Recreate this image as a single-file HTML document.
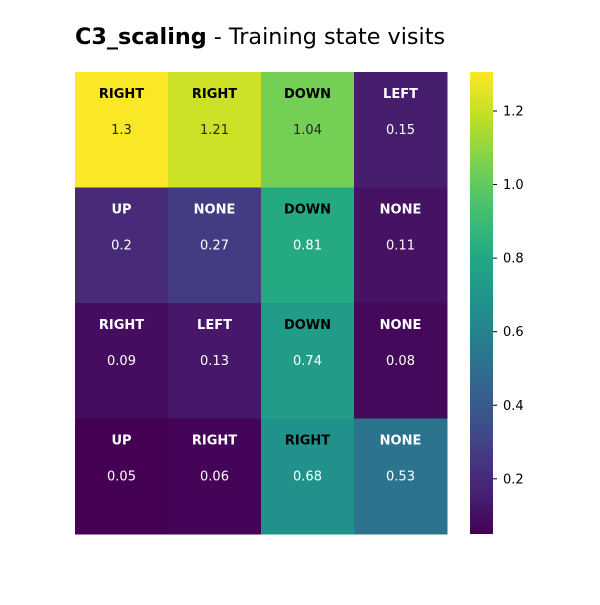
<!DOCTYPE html>
<html><head><meta charset="utf-8"><style>
body{margin:0;background:#fff;font-family:"Liberation Sans","DejaVu Sans",sans-serif}
</style></head><body>
<svg id="c" width="600" height="600" xmlns="http://www.w3.org/2000/svg">
<text x="75" y="44" font-size="22.3" fill="#000" font-family="DejaVu Sans,Liberation Sans,sans-serif"><tspan font-weight="bold">C3_scaling</tspan> - Training state visits</text>
<g id="cells"></g>
<g id="cbar"></g>
</svg>
<script>
const rowsN = 4, colsN = 4;
const values = [
 [1.3, 1.21, 1.04, 0.15],
 [0.2, 0.27, 0.81, 0.11],
 [0.09, 0.13, 0.74, 0.08],
 [0.05, 0.06, 0.68, 0.53]
];
const actions = [
 ["RIGHT","RIGHT","DOWN","LEFT"],
 ["UP","NONE","DOWN","NONE"],
 ["RIGHT","LEFT","DOWN","NONE"],
 ["UP","RIGHT","RIGHT","NONE"]
];
const cbTicks = [0.2, 0.4, 0.6, 0.8, 1.0, 1.2];
const vmin = 0.05, vmax = 1.306;

const vir = ["#440154","#482475","#414487","#355f8d","#2a788e","#21918c","#22a884","#44bf70","#7ad151","#bddf26","#fde725"];
function hex(h){return [1,3,5].map(i=>parseInt(h.substr(i,2),16));}
function viridis(t){t=Math.max(0,Math.min(1,t));const p=t*10,i=Math.min(9,Math.floor(p)),f=p-i;
 const a=hex(vir[i]),b=hex(vir[i+1]);return "rgb("+a.map((v,k)=>Math.round(v+(b[k]-v)*f)).join(",")+")";}
const X0=75,X1=447,Y0=72,Y1=534;
const cw=(X1-X0)/colsN, ch=(Y1-Y0)/rowsN;
const NS="http://www.w3.org/2000/svg";
function mk(tag,attrs,parent){const e=document.createElementNS(NS,tag);for(const k in attrs)e.setAttribute(k,attrs[k]);parent.appendChild(e);return e;}
const cells=document.getElementById('cells');
for(let r=0;r<rowsN;r++)for(let c=0;c<colsN;c++){
 const v=values[r][c];
 const rect=mk('rect',{x:X0+c*cw,y:Y0+r*ch,width:cw+0.5,height:ch+0.5,fill:viridis((v-vmin)/(vmax-vmin))},cells);
 
 
 const t1=mk('text',{x:X0+c*cw+cw/2,y:Y0+r*ch+26,'text-anchor':'middle','font-size':13,'font-weight':'bold',fill:v>0.6?'#000':'#fff','font-family':'DejaVu Sans,sans-serif'},cells);
 t1.textContent=actions[r][c];
 
 
 const t2=mk('text',{x:X0+c*cw+cw/2,y:Y0+r*ch+62,'text-anchor':'middle','font-size':13,fill:v>1.0?'#262626':'#fff','font-family':'DejaVu Sans,sans-serif'},cells);
 t2.textContent=String(v);
 
 
}
const cb=document.getElementById('cbar');
const CX=470,CW=23;
const defs=mk('defs',{},cb);
const lg=mk('linearGradient',{id:'g',x1:0,y1:1,x2:0,y2:0},defs);
for(let i=0;i<=20;i++)mk('stop',{offset:i/20,'stop-color':viridis(i/20)},lg);
const bar=mk('rect',{x:CX,y:Y0,width:CW,height:Y1-Y0,fill:'url(#g)'},cb);


const cy=v=>Y1-(v-vmin)/(vmax-vmin)*(Y1-Y0);
cbTicks.forEach(v=>{
 const y=cy(v);
 mk('line',{x1:CX+CW,x2:CX+CW+4,y1:y,y2:y,stroke:'#000','stroke-width':1},cb);
 const t=mk('text',{x:CX+CW+10,y:y+4.5,'font-size':13,fill:'#000','font-family':'DejaVu Sans,sans-serif'},cb);
 t.textContent=v.toFixed(1);
 
 
});
</script>
</body></html>
